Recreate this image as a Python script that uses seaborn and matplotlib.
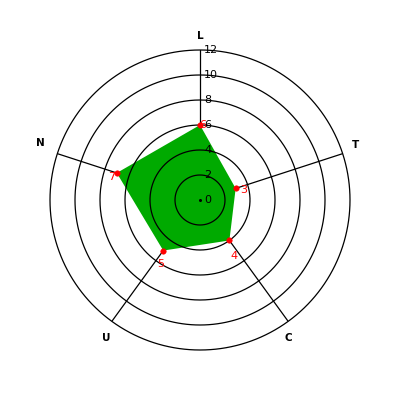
import numpy as np
import pandas as pd
import seaborn as sns
import matplotlib.pyplot as plt

# données du radar
categories = ["L", "T", "C", "U", "N"]
values = [6, 3, 4, 5, 7]
rings = [2, 4, 6, 8, 10, 12]
tick_labels = ["0", "2", "4", "6", "8", "10", "12"]

sns.set_theme(style="white")
plt.rcParams['font.family'] = ['DejaVu Sans']
plt.rcParams['text.color'] = 'black'

n = len(categories)
# L en haut, puis sens horaire
angles = np.pi / 2 - np.arange(n) * 2 * np.pi / n
df = pd.DataFrame({"cat": categories, "val": values, "theta": angles})

fig = plt.figure(figsize=(4, 4), dpi=100)
ax = fig.add_axes([0.125, 0.125, 0.75, 0.75], projection="polar")

# rayons (sous le polygone)
for a in angles:
    ax.plot([a, a], [0, 12], color="black", lw=0.9, zorder=1)

# polygone
th = np.append(angles, angles[0])
vv = np.append(values, values[0])
ax.fill(th, vv, color="#00aa00", zorder=2, lw=0)

# cercles (au-dessus du polygone), départ en haut pour éviter un raccord visible
circ = np.pi / 2 + np.linspace(0, 2 * np.pi, 361)
for r in rings:
    ax.plot(circ, np.full_like(circ, r), color="black", lw=0.9, zorder=3,
            clip_on=False, solid_capstyle="butt")

# points rouges
sns.scatterplot(data=df, x="theta", y="val", ax=ax, color="red", s=16,
                edgecolor="red", zorder=4, legend=False)

ax.set_ylim(0, 12)
ax.set_axis_off()

# étiquettes des valeurs (décalages en points)
offsets = [(2, 0), (6, -1.5), (3.5, -11), (-2, -10), (-4, -3)]
for a, v, off in zip(angles, values, offsets):
    ax.annotate(str(v), xy=(a, v), xytext=off, textcoords="offset points",
                color="red", fontsize=8, ha="center", va="center", zorder=5)

# graduations le long de l'axe L
for i, lab in enumerate(tick_labels):
    ax.annotate(lab, xy=(np.pi / 2, i * 2), xytext=(3, 0),
                textcoords="offset points", fontsize=8, ha="left",
                va="center", color="black", zorder=5)
ax.plot([np.pi / 2], [0], marker="o", ms=1.2, color="black", zorder=5)

# noms des axes
name_offsets = [(0, 0), (0, 3), (-6, -4), (2, -4), (-3, 4.5)]
for a, c, off in zip(angles, categories, name_offsets):
    ax.annotate(c, xy=(a, 13.1), xytext=off, textcoords="offset points",
                fontsize=7.5, fontweight="bold", ha="center", va="center",
                annotation_clip=False)

fig.savefig("out.png", dpi=100, facecolor="white")
